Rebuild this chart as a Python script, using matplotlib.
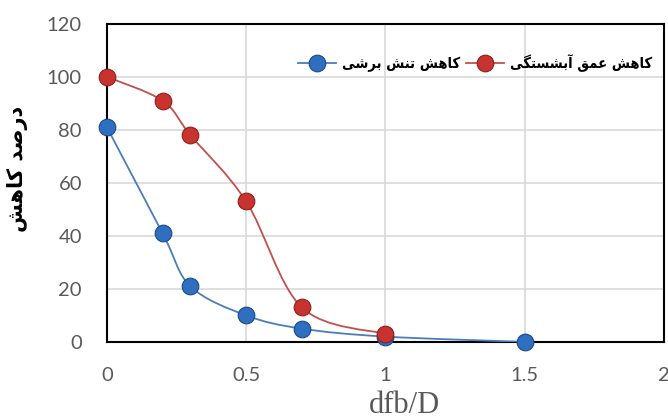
import numpy as np
import matplotlib
matplotlib.use('Agg')
import matplotlib.pyplot as plt
from matplotlib.path import Path
from matplotlib.patches import PathPatch
from matplotlib.lines import Line2D

# داده‌ها
x_depth = [0, 0.2, 0.3, 0.5, 0.7, 1.0]
y_depth = [100, 91, 78, 53, 13, 3]
x_shear = [0, 0.2, 0.3, 0.5, 0.7, 1.0, 1.5]
y_shear = [81, 41, 21, 10, 5, 2, 0]
label_depth = 'کاهش عمق آبشستگی'
label_shear = 'کاهش تنش برشی'
y_title = 'درصد کاهش'
x_title = 'dfb/D'
x_ticks = [0, 0.5, 1, 1.5, 2]
x_ticklabels = ['0', '0.5', '1', '1.5', '2']
y_ticks = [0, 20, 40, 60, 80, 100, 120]

# شکل‌دهی دستی حروف فارسی (matplotlib خودش این کار را نمی‌کند)
FORMS = {
    'ا': ('\uFE8D', '\uFE8E', None, None),
    'آ': ('\uFE81', '\uFE82', None, None),
    'د': ('\uFEA9', '\uFEAA', None, None),
    'ر': ('\uFEAD', '\uFEAE', None, None),
    'ب': ('\uFE8F', '\uFE90', '\uFE91', '\uFE92'),
    'ت': ('\uFE95', '\uFE96', '\uFE97', '\uFE98'),
    'س': ('\uFEB1', '\uFEB2', '\uFEB3', '\uFEB4'),
    'ش': ('\uFEB5', '\uFEB6', '\uFEB7', '\uFEB8'),
    'ص': ('\uFEB9', '\uFEBA', '\uFEBB', '\uFEBC'),
    'ع': ('\uFEC9', '\uFECA', '\uFECB', '\uFECC'),
    'ق': ('\uFED5', '\uFED6', '\uFED7', '\uFED8'),
    'م': ('\uFEE1', '\uFEE2', '\uFEE3', '\uFEE4'),
    'ن': ('\uFEE5', '\uFEE6', '\uFEE7', '\uFEE8'),
    'ه': ('\uFEE9', '\uFEEA', '\uFEEB', '\uFEEC'),
    'ک': ('\uFB8E', '\uFB8F', '\uFB90', '\uFB91'),
    'گ': ('\uFB92', '\uFB93', '\uFB94', '\uFB95'),
    'ی': ('\uFBFC', '\uFBFD', '\uFBFE', '\uFBFF'),
}


def shape(text):
    out = []
    for i, ch in enumerate(text):
        if ch not in FORMS:
            out.append(ch)
            continue
        prev = text[i - 1] if i > 0 else ''
        nxt = text[i + 1] if i + 1 < len(text) else ''
        join_prev = prev in FORMS and FORMS[prev][2] is not None
        join_next = nxt in FORMS and FORMS[ch][2] is not None
        iso, fin, ini, med = FORMS[ch]
        if join_prev and join_next:
            out.append(med)
        elif join_prev:
            out.append(fin)
        elif join_next:
            out.append(ini)
        else:
            out.append(iso)
    return ''.join(reversed(out))


def smooth_path(xs, ys):
    # منحنی نرم شبیه اکسل (Catmull-Rom به شکل بزیه)
    p = np.column_stack([xs, ys]).astype(float)
    verts = [p[0]]
    codes = [Path.MOVETO]
    n = len(p)
    for i in range(n - 1):
        p0 = p[i - 1] if i > 0 else p[i]
        p3 = p[i + 2] if i + 2 < n else p[i + 1]
        c1 = p[i] + (p[i + 1] - p0) / 6
        c2 = p[i + 1] - (p3 - p[i]) / 6
        verts += [c1, c2, p[i + 1]]
        codes += [Path.CURVE4] * 3
    return Path(verts, codes)


arabic_font = ['DejaVu Sans']
tick_color = '#595959'
red_line, red_mark, red_edge = '#C0504D', '#C8322F', '#8E1F1C'
blue_line, blue_mark, blue_edge = '#4A7EBB', '#2F6FC0', '#1C4A86'

fig = plt.figure(figsize=(6.68, 4.19), dpi=100)
ax = fig.add_axes([0.160, 0.184, 0.834, 0.759])

ax.add_patch(PathPatch(smooth_path(x_depth, y_depth), fill=False,
                       edgecolor=red_line, lw=1.3, zorder=3))
ax.add_patch(PathPatch(smooth_path(x_shear, y_shear), fill=False,
                       edgecolor=blue_line, lw=1.3, zorder=3))
ax.plot(x_shear, y_shear, 'o', ms=12, mfc=blue_mark, mec=blue_edge, mew=0.8,
        zorder=4, clip_on=False)
ax.plot(x_depth, y_depth, 'o', ms=12, mfc=red_mark, mec=red_edge, mew=0.8,
        zorder=5, clip_on=False)

ax.set_xlim(0, 2)
ax.set_ylim(0, 120)
ax.set_xticks(x_ticks)
ax.set_xticklabels(x_ticklabels)
ax.set_yticks(y_ticks)
ax.grid(True, color='#D9D9D9', lw=1.2)
ax.set_axisbelow(True)
for s in ax.spines.values():
    s.set_color('black')
    s.set_linewidth(1.5)
ax.tick_params(length=0, labelsize=14.5, labelcolor=tick_color)
ax.tick_params(axis='x', pad=18)
ax.tick_params(axis='y', pad=18)
for lab in ax.get_xticklabels() + ax.get_yticklabels():
    lab.set_family('Lato')

ax.set_ylabel(shape(y_title), family=arabic_font, fontweight='bold',
              fontsize=15)
ax.yaxis.set_label_coords(-0.141, 0.545)
ax.set_xlabel(x_title, family='Liberation Serif', fontsize=22,
              color=tick_color, va='baseline')
ax.xaxis.set_label_coords(0.535, -0.225)

handles = [
    Line2D([], [], color=blue_line, lw=1.3, marker='o', ms=12,
           mfc=blue_mark, mec=blue_edge, mew=0.8),
    Line2D([], [], color=red_line, lw=1.3, marker='o', ms=12,
           mfc=red_mark, mec=red_edge, mew=0.8),
]
leg = ax.legend(handles, [shape(label_shear), shape(label_depth)], ncol=2,
                loc='center left', bbox_to_anchor=(0.325, 0.877),
                frameon=False, handlelength=2.6, columnspacing=0.4,
                handletextpad=0.4, borderpad=0.2,
                prop={'family': arabic_font, 'weight': 'bold', 'size': 10.5,
                      'stretch': 'condensed'})

fig.savefig('out.png', dpi=100)
